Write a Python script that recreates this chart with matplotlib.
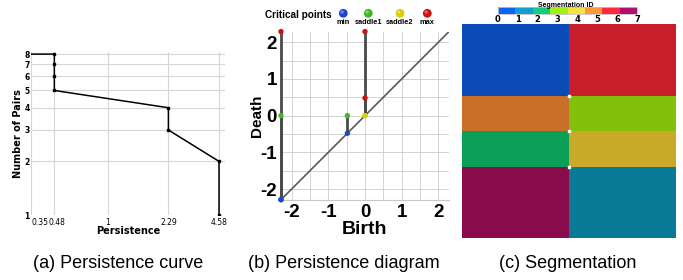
import numpy as np
import matplotlib
matplotlib.use('Agg')
import matplotlib.pyplot as plt
from matplotlib import ticker
from matplotlib import transforms
from matplotlib.colors import ListedColormap, Normalize
from matplotlib.cm import ScalarMappable

plt.rcParams['axes.unicode_minus'] = False

# (a) persistence curve
pers_x = [0.35, 0.48, 0.48, 0.48, 0.48, 2.29, 2.29, 4.58, 4.58]
pairs_y = [8, 8, 7, 6, 5, 4, 3, 2, 1]
pc_xticks = [0.35, 0.48, 1, 2.29, 4.58]
pc_xlabels = ['0.35', '0.48', '1', '2.29', '4.58']
pc_yticks = [1, 2, 3, 4, 5, 6, 7, 8]

# (b) persistence diagram
pair_birth = [-2.29, -2.29, -0.48, 0.0, 0.0]
pair_death = [2.29, 0.0, 0.0, 0.48, 2.29]
birth_type = ['min', 'min', 'min', 'saddle2', 'saddle2']
death_type = ['max', 'saddle1', 'saddle1', 'max', 'max']
crit_names = ['min', 'saddle1', 'saddle2', 'max']
crit_colors = {'min': '#1a48cc', 'saddle1': '#3cbc22', 'saddle2': '#dccc00', 'max': '#cc1212'}
pd_ticks = [-2, -1, 0, 1, 2]

# (c) segmentation
seg_x_edges = [0, 0.5, 1]
seg_y_edges = [0, 0.336, 0.5, 0.67, 1]
seg_ids = np.array([[0, 6],
                    [5, 3],
                    [2, 4],
                    [7, 1]])
seg_shaded = ['#0b4bb8', '#087a98', '#0aa058', '#84c00a',
              '#c8aa28', '#c8702a', '#c81e2c', '#880c4c']
seg_bar = ['#1064f0', '#10a0d0', '#10d080', '#a0f010',
           '#f8e040', '#ff9838', '#ff2840', '#b01070']
seg_ticks = [0, 1, 2, 3, 4, 5, 6, 7]

captions = ['(a) Persistence curve', '(b) Persistence diagram', '(c) Segmentation']

fig = plt.figure(figsize=(6.83, 2.8), dpi=100)

# ---------- (a)
ax = fig.add_axes([0.0458, 0.2321, 0.2836, 0.5832])
ax.set_xscale('log')
ax.set_yscale('log')
ax.plot(pers_x, pairs_y, color='black', lw=1.1, zorder=3)
ax.plot(pers_x[1:], pairs_y[1:], 's', ms=2, color='black', zorder=4)
ax.set_xlim(0.35, 4.97)
ax.set_ylim(1, 8.25)
ax.xaxis.set_major_locator(ticker.FixedLocator(pc_xticks))
ax.xaxis.set_major_formatter(ticker.FixedFormatter(pc_xlabels))
ax.yaxis.set_major_locator(ticker.FixedLocator(pc_yticks))
ax.yaxis.set_major_formatter(ticker.FixedFormatter([str(v) for v in pc_yticks]))
ax.xaxis.set_minor_locator(ticker.NullLocator())
ax.yaxis.set_minor_locator(ticker.NullLocator())
ax.tick_params(length=0, labelsize=5.5, pad=2)
ax.tick_params(axis='y', pad=1)
for lab in ax.get_yticklabels():
    lab.set_fontweight('bold')
xl = ax.get_xticklabels()
xl[0].set_ha('left')
xl[1].set_transform(xl[1].get_transform() +
                    transforms.ScaledTranslation(2.5 / 100, 0, fig.dpi_scale_trans))
for s in ax.spines.values():
    s.set_visible(False)
ax.grid(True, color='#d6d6d6', lw=0.8)
ax.set_axisbelow(True)
ax.text(0.5, -0.1, 'Persistence', transform=ax.transAxes, ha='center', va='center',
        fontsize=7, fontweight='bold')
ax.text(-0.066, 0.5, 'Number of Pairs', transform=ax.transAxes, ha='center', va='center',
        rotation=90, fontsize=7, fontweight='bold')

# ---------- (b)
bx = fig.add_axes([0.4114, 0.2868, 0.246, 0.6004])
bx.set_xlim(-2.29, 2.29)
bx.set_ylim(-2.29, 2.29)
bx.axline((0, 0), slope=1, color='#5a5a5a', lw=1.2, zorder=2)
for b, d in zip(pair_birth, pair_death):
    bx.plot([b, b], [b, d], color='#4a4a4a', lw=2, zorder=3, clip_on=False, solid_capstyle='butt')
bx.scatter(pair_birth, pair_birth, s=15, c=[crit_colors[t] for t in birth_type],
           zorder=5, clip_on=False, edgecolors='none')
bx.scatter(pair_birth, pair_death, s=15, c=[crit_colors[t] for t in death_type],
           zorder=5, clip_on=False, edgecolors='none')
bx.xaxis.set_major_locator(ticker.FixedLocator(pd_ticks))
bx.yaxis.set_major_locator(ticker.FixedLocator(pd_ticks))
bx.xaxis.set_minor_locator(ticker.MultipleLocator(0.5))
bx.yaxis.set_minor_locator(ticker.MultipleLocator(0.5))
bx.tick_params(which='both', length=0)
bx.tick_params(which='major', labelsize=13.5, pad=3)
for lab in bx.get_xticklabels() + bx.get_yticklabels():
    lab.set_fontweight('bold')
    lab.set_family('Liberation Sans')
for k, s in bx.spines.items():
    s.set_visible(k == 'bottom')
bx.spines['bottom'].set_color('#c8c8c8')
bx.grid(True, which='both', color='#cccccc', lw=0.6)
bx.set_axisbelow(True)
bx.set_xlabel('Birth', fontsize=14, fontweight='bold', family='Liberation Sans', labelpad=0)
bx.set_ylabel('Death', fontsize=11, fontweight='bold', family='Liberation Sans')
bx.yaxis.set_label_coords(-0.1, 0.5)

# ---------- (c)
cx = fig.add_axes([0.6764, 0.15, 0.3133, 0.7643])
cx.pcolormesh(seg_x_edges, seg_y_edges, seg_ids, cmap=ListedColormap(seg_shaded),
              vmin=-0.5, vmax=7.5, edgecolors='none')
cx.scatter([seg_x_edges[1]] * 3, seg_y_edges[1:-1], marker='s', s=3, color='white', zorder=3)
cx.set_xlim(0, 1)
cx.set_ylim(1, 0)
cx.axis('off')

cax = fig.add_axes([0.7287, 0.95, 0.2044, 0.024])
cb = fig.colorbar(ScalarMappable(norm=Normalize(0, 7), cmap=ListedColormap(seg_bar)),
                  cax=cax, orientation='horizontal', ticks=seg_ticks)
cb.outline.set_edgecolor('#c0c0c0')
cb.outline.set_linewidth(0.6)
cax.tick_params(length=0, labelsize=6, pad=1)
for lab in cax.get_xticklabels():
    lab.set_fontweight('bold')
fig.text(0.828, 0.982, 'Segmentation ID', ha='center', va='center', fontsize=5,
         fontweight='bold', family='Liberation Sans')

# ---------- legend for critical points (pixel overlay)
ov = fig.add_axes([0, 0, 1, 1], facecolor='none')
ov.set_xlim(0, 683)
ov.set_ylim(280, 0)
ov.axis('off')
ov.text(298, 15.5, 'Critical points', ha='center', va='center', fontsize=7.2,
        fontweight='bold', family='Liberation Sans')
leg_x = [343.3, 368.3, 400, 427.3]
for name, lx in zip(crit_names, leg_x):
    ov.scatter([lx], [13.3], s=40, color=crit_colors[name], edgecolors='none')
    ov.scatter([lx - 1.2], [12], s=6, color='white', alpha=0.35, edgecolors='none')
    ov.text(lx, 22.7, name, ha='center', va='center', fontsize=5.3,
            fontweight='bold', family='Liberation Sans')

for cap, cxp in zip(captions, [118, 344, 568]):
    ov.text(cxp, 264, cap, ha='center', va='center', fontsize=13, family='Liberation Sans')

fig.savefig('out.png', dpi=100)
